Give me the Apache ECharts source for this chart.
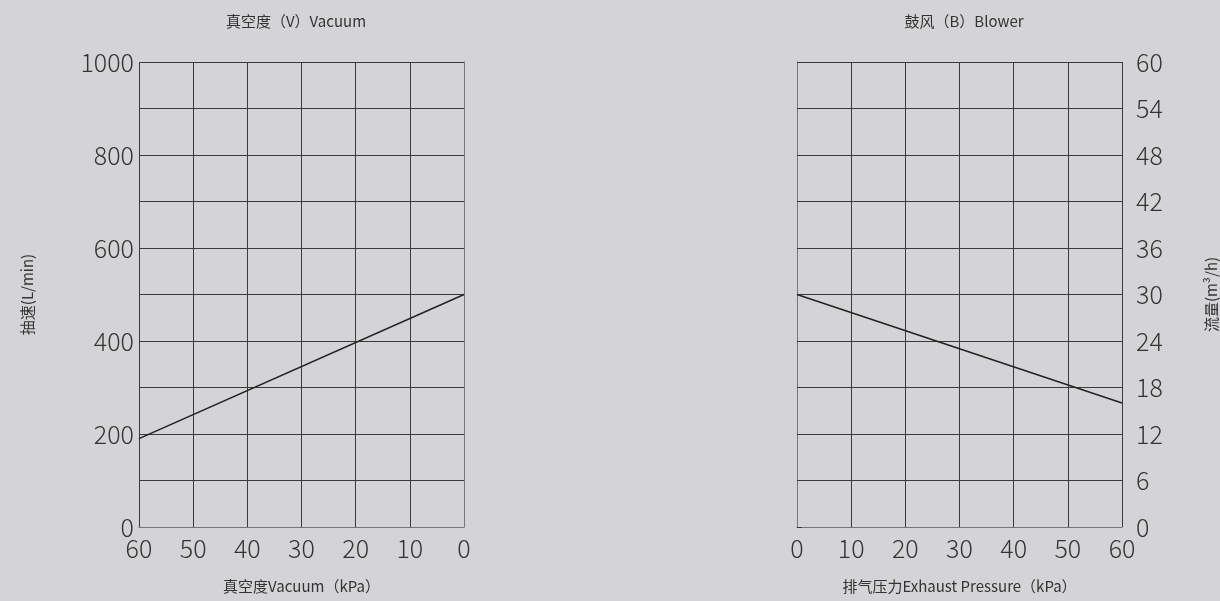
<!DOCTYPE html>
<html><head><meta charset="utf-8">
<script src="https://cdn.jsdelivr.net/npm/echarts@6/dist/echarts.min.js"></script>
<style>html,body{margin:0;padding:0;background:#d4d4d6;overflow:hidden;}#c{width:1220px;height:601px;}</style>
</head><body><div id="c"></div>
<script>
const vacuumKPa = [60, 0];
const vacuumFlow = [190, 500];
const blowerKPa = [0, 60];
const blowerFlow = [30, 16];
const vacuumTitle = '真空度（V）Vacuum';
const blowerTitle = '鼓风（B）Blower';
const vacuumXName = '真空度Vacuum（kPa）';
const blowerXName = '排气压力Exhaust Pressure（kPa）';
const vacuumYName = '抽速(L/min)';
const blowerYName = '流量(m³/h)';

const FONT = '"Noto Sans CJK SC", "Noto Sans", sans-serif';
const gridLine = {show: true, lineStyle: {color: '#3a3a3a', width: 1}};
const tickLabel = {color: '#333', fontSize: 25, fontFamily: FONT, fontWeight: 300};
const nameStyle = {color: '#333', fontSize: 15, fontFamily: FONT};

const chart = echarts.init(document.getElementById('c'), null, {renderer: 'canvas'});
chart.setOption({
  backgroundColor: '#d4d4d6',
  animation: false,
  title: [
    {text: vacuumTitle, left: 291, top: 9, textAlign: 'center', textStyle: {color: '#333', fontSize: 15, fontWeight: 'normal', fontFamily: FONT}},
    {text: blowerTitle, left: 959, top: 9, textAlign: 'center', textStyle: {color: '#333', fontSize: 15, fontWeight: 'normal', fontFamily: FONT}}
  ],
  grid: [
    {left: 139, top: 62, width: 325, height: 465, containLabel: false, outerBoundsMode: 'none'},
    {left: 797, top: 62, width: 325, height: 465, containLabel: false, outerBoundsMode: 'none'}
  ],
  xAxis: [
    {gridIndex: 0, type: 'value', min: 0, max: 60, interval: 10, inverse: true,
     name: vacuumXName, nameLocation: 'middle', nameGap: 52, nameTextStyle: nameStyle,
     axisLine: {show: true, lineStyle: {color: '#777'}}, axisTick: {show: false},
     axisLabel: Object.assign({margin: 9}, tickLabel), splitLine: gridLine},
    {gridIndex: 1, type: 'value', min: 0, max: 60, interval: 10,
     name: blowerXName, nameLocation: 'middle', nameGap: 52, nameTextStyle: nameStyle,
     axisLine: {show: true, lineStyle: {color: '#777'}}, axisTick: {show: false},
     axisLabel: Object.assign({margin: 9}, tickLabel), splitLine: gridLine}
  ],
  yAxis: [
    {gridIndex: 0, type: 'value', min: 0, max: 1000, interval: 100,
     name: vacuumYName, nameLocation: 'middle', nameGap: 104, nameRotate: 90, nameTextStyle: nameStyle,
     axisLine: {show: true, lineStyle: {color: '#777'}}, axisTick: {show: false},
     axisLabel: Object.assign({margin: 5, formatter: v => (v % 200 === 0 ? String(v) : '')}, tickLabel),
     splitLine: gridLine},
    {gridIndex: 1, type: 'value', min: 0, max: 60, interval: 6, position: 'right',
     name: blowerYName, nameLocation: 'middle', nameGap: 82, nameRotate: 90, nameTextStyle: nameStyle,
     axisLine: {show: true, lineStyle: {color: '#777'}},
     axisTick: {show: true, length: 5, lineStyle: {color: '#3a3a3a'}},
     axisLabel: Object.assign({margin: 14}, tickLabel), splitLine: gridLine}
  ],
  series: [
    {type: 'line', xAxisIndex: 0, yAxisIndex: 0, data: vacuumKPa.map((x, i) => [x, vacuumFlow[i]]),
     symbol: 'none', lineStyle: {color: '#222', width: 1.5}},
    {type: 'line', xAxisIndex: 1, yAxisIndex: 1, data: blowerKPa.map((x, i) => [x, blowerFlow[i]]),
     symbol: 'none', lineStyle: {color: '#222', width: 1.5}}
  ]
});
</script></body></html>
